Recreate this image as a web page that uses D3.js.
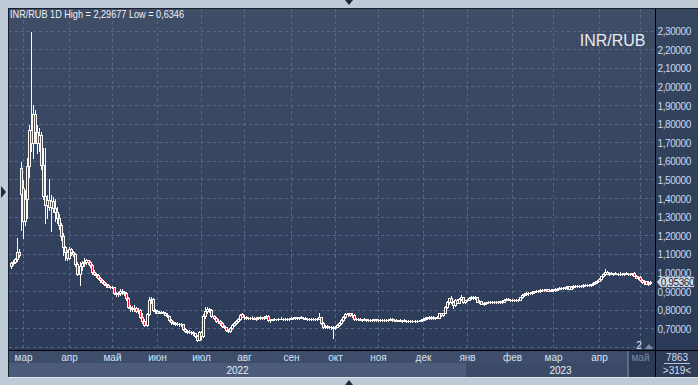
<!DOCTYPE html>
<html>
<head>
<meta charset="utf-8">
<script src="https://cdn.jsdelivr.net/npm/d3@7"></script>
<style>
  body { margin: 0; background: #bfcad7; }
  svg { display: block; }
  text { font-family: "Liberation Sans", Arial, sans-serif; }
</style>
</head>
<body>
<svg id="chart" width="698" height="385"></svg>
<script>
/**
 * INR/RUB daily candles, one [open, high, low, close] per weekday
 */
const symbol = "INR/RUB";
const firstDay = new Date(2022, 1, 21);
const lastDay = new Date(2023, 4, 8);
const monthNames = ["янв", "фев", "мар", "апр", "май", "июн", "июл", "авг", "сен", "окт", "ноя", "дек"];
const priceTicks = [0.7, 0.8, 0.9, 1.0, 1.1, 1.2, 1.3, 1.4, 1.5, 1.6, 1.7, 1.8, 1.9, 2.0, 2.1, 2.2, 2.3];
const gridTicks = [0.6].concat(priceTicks);
const lastPrice = 0.9536;
const barsShown = 7863, barsOnScreen = 319;

const feb22 = [
  [1.040,1.060,1.030,1.055],[1.055,1.075,1.045,1.062],[1.062,1.085,1.055,1.078],[1.078,1.190,1.065,1.115],
  [1.115,1.130,1.090,1.100],[1.566,1.600,1.233,1.430]
];
const mar22 = [
  [1.460,1.500,1.190,1.280],[1.280,1.450,1.260,1.400],[1.400,1.620,1.300,1.580],[1.580,1.800,1.520,1.770],
  [1.770,2.29677,1.660,1.700],[1.700,1.905,1.620,1.860],[1.860,1.880,1.700,1.760],[1.760,1.800,1.650,1.700],
  [1.700,1.780,1.660,1.745],[1.745,1.760,1.560,1.585],[1.585,1.675,1.400,1.415],[1.415,1.675,1.270,1.370],
  [1.370,1.420,1.300,1.395],[1.395,1.510,1.340,1.360],[1.360,1.420,1.230,1.390],[1.390,1.410,1.330,1.350],
  [1.350,1.400,1.280,1.330],[1.330,1.360,1.270,1.300],[1.300,1.320,1.240,1.260],[1.260,1.270,1.180,1.200],
  [1.200,1.220,1.100,1.140],[1.140,1.150,1.070,1.115],[1.115,1.125,1.075,1.085]
];
const apr22 = [
  [1.085,1.140,1.080,1.130],[1.130,1.135,1.100,1.115],[1.115,1.120,1.095,1.105],[1.105,1.110,1.040,1.050],
  [1.050,1.060,0.990,1.000],[1.000,1.060,0.940,1.040],[1.040,1.065,1.020,1.055],[1.055,1.085,1.040,1.060],
  [1.060,1.080,1.050,1.070],[1.070,1.075,1.050,1.060],[1.060,1.065,1.035,1.045],[1.045,1.050,1.000,1.010],
  [1.010,1.020,0.990,1.000],[1.000,1.005,0.980,0.990],[0.990,0.995,0.970,0.975],[0.975,0.980,0.955,0.965],
  [0.965,0.970,0.950,0.955],[0.955,0.960,0.940,0.945],[0.945,0.950,0.930,0.940],[0.940,0.945,0.925,0.930],
  [0.930,0.935,0.920,0.930]
];
const may22 = [
  [0.930,0.935,0.920,0.927],[0.927,0.930,0.890,0.895],[0.895,0.900,0.880,0.890],[0.890,0.900,0.880,0.895],
  [0.895,0.916,0.885,0.905],[0.905,0.915,0.890,0.900],[0.900,0.905,0.885,0.895],[0.895,0.900,0.860,0.868],
  [0.868,0.875,0.815,0.820],[0.820,0.830,0.800,0.815],[0.815,0.825,0.800,0.810],[0.810,0.830,0.800,0.815],
  [0.815,0.820,0.795,0.800],[0.800,0.815,0.790,0.805],[0.805,0.810,0.760,0.765],[0.765,0.790,0.735,0.745],
  [0.745,0.755,0.720,0.725],[0.725,0.790,0.720,0.780],[0.780,0.875,0.775,0.855],[0.855,0.875,0.840,0.865],
  [0.865,0.870,0.800,0.805],[0.805,0.810,0.790,0.800]
];
const jun22 = [
  [0.800,0.805,0.785,0.790],[0.790,0.800,0.785,0.795],[0.795,0.800,0.788,0.792],[0.792,0.798,0.785,0.790],
  [0.790,0.795,0.775,0.778],[0.778,0.785,0.765,0.770],[0.770,0.772,0.745,0.750],[0.750,0.755,0.730,0.737],
  [0.737,0.742,0.728,0.733],[0.733,0.740,0.725,0.730],[0.730,0.737,0.722,0.728],[0.728,0.735,0.720,0.731],
  [0.731,0.736,0.720,0.726],[0.726,0.728,0.695,0.700],[0.700,0.705,0.685,0.690],[0.690,0.698,0.680,0.687],
  [0.687,0.695,0.678,0.684],[0.684,0.692,0.675,0.687],[0.687,0.690,0.672,0.680],[0.680,0.682,0.660,0.664],
  [0.664,0.670,0.6346,0.645],[0.645,0.690,0.640,0.685]
];
const jul22 = [
  [0.685,0.690,0.650,0.665],[0.665,0.780,0.660,0.770],[0.770,0.820,0.760,0.800],[0.800,0.820,0.790,0.810],
  [0.810,0.815,0.795,0.805],[0.805,0.808,0.765,0.770],[0.770,0.775,0.755,0.760],[0.760,0.765,0.740,0.745],
  [0.745,0.755,0.735,0.742],[0.742,0.750,0.725,0.735],[0.735,0.738,0.715,0.720],[0.720,0.725,0.705,0.710],
  [0.710,0.715,0.690,0.695],[0.695,0.700,0.685,0.690],[0.690,0.710,0.688,0.705],[0.705,0.730,0.700,0.725],
  [0.725,0.740,0.720,0.735],[0.735,0.750,0.730,0.745],[0.745,0.760,0.740,0.755],[0.755,0.780,0.750,0.775],
  [0.780,0.785,0.765,0.768]
];
const aug22 = [
  [0.768,0.775,0.755,0.765],[0.765,0.772,0.758,0.762],[0.762,0.768,0.755,0.760],[0.760,0.765,0.754,0.763],
  [0.763,0.770,0.758,0.762],[0.762,0.766,0.755,0.758],[0.758,0.764,0.752,0.760],[0.760,0.768,0.756,0.764],
  [0.764,0.769,0.756,0.759],[0.759,0.765,0.754,0.762],[0.762,0.772,0.758,0.768],[0.768,0.777,0.762,0.773],
  [0.773,0.776,0.745,0.750],[0.750,0.758,0.738,0.752],[0.752,0.758,0.748,0.755],[0.755,0.760,0.750,0.753],
  [0.753,0.758,0.748,0.756],[0.756,0.762,0.752,0.757],[0.757,0.765,0.753,0.755],[0.755,0.760,0.750,0.754],
  [0.754,0.760,0.749,0.757],[0.757,0.762,0.752,0.756],[0.756,0.761,0.750,0.758]
];
const sep22 = [
  [0.758,0.765,0.755,0.762],[0.762,0.767,0.757,0.760],[0.760,0.768,0.756,0.764],[0.764,0.768,0.758,0.762],
  [0.762,0.768,0.757,0.765],[0.765,0.770,0.759,0.763],[0.763,0.767,0.757,0.760],[0.760,0.765,0.754,0.757],
  [0.757,0.763,0.752,0.756],[0.756,0.760,0.750,0.755],[0.755,0.760,0.749,0.757],[0.757,0.762,0.752,0.756],
  [0.756,0.760,0.751,0.757],[0.757,0.761,0.752,0.758],[0.758,0.788,0.755,0.765],[0.765,0.768,0.730,0.735],
  [0.735,0.738,0.705,0.712],[0.712,0.725,0.705,0.720],[0.720,0.722,0.708,0.715],[0.715,0.720,0.705,0.710],
  [0.710,0.718,0.700,0.712],[0.712,0.716,0.655,0.705]
];
const oct22 = [
  [0.705,0.720,0.700,0.715],[0.715,0.730,0.710,0.725],[0.725,0.740,0.720,0.735],[0.735,0.755,0.730,0.750],
  [0.750,0.770,0.745,0.765],[0.765,0.785,0.760,0.780],[0.780,0.790,0.772,0.785],[0.785,0.790,0.770,0.775],
  [0.775,0.785,0.765,0.778],[0.778,0.780,0.750,0.755],[0.755,0.762,0.748,0.758],[0.758,0.763,0.750,0.755],
  [0.755,0.760,0.748,0.752],[0.752,0.758,0.746,0.755],[0.755,0.760,0.748,0.753],[0.753,0.757,0.746,0.750],
  [0.750,0.756,0.745,0.752],[0.752,0.757,0.746,0.749],[0.749,0.755,0.744,0.751],[0.751,0.757,0.746,0.753],
  [0.753,0.758,0.747,0.750]
];
const nov22 = [
  [0.750,0.756,0.745,0.752],[0.752,0.757,0.747,0.750],[0.750,0.755,0.744,0.748],[0.748,0.754,0.743,0.751],
  [0.751,0.756,0.746,0.749],[0.749,0.755,0.744,0.752],[0.752,0.760,0.748,0.757],[0.757,0.760,0.745,0.748],
  [0.748,0.753,0.743,0.750],[0.750,0.755,0.744,0.747],[0.747,0.752,0.742,0.749],[0.749,0.754,0.743,0.746],
  [0.746,0.752,0.741,0.748],[0.748,0.753,0.742,0.745],[0.745,0.750,0.740,0.747],[0.747,0.752,0.741,0.744],
  [0.744,0.750,0.739,0.746],[0.746,0.751,0.740,0.743],[0.743,0.749,0.738,0.745],[0.745,0.750,0.740,0.747],
  [0.747,0.752,0.742,0.745],[0.745,0.755,0.743,0.752]
];
const dec22 = [
  [0.752,0.760,0.748,0.757],[0.757,0.765,0.752,0.760],[0.760,0.768,0.755,0.764],[0.764,0.770,0.758,0.762],
  [0.762,0.770,0.757,0.765],[0.765,0.770,0.758,0.763],[0.763,0.768,0.757,0.765],[0.765,0.770,0.759,0.763],
  [0.763,0.790,0.760,0.786],[0.786,0.790,0.770,0.775],[0.775,0.790,0.772,0.788],[0.788,0.825,0.785,0.820],
  [0.820,0.850,0.815,0.845],[0.845,0.870,0.835,0.866],[0.866,0.879,0.840,0.845],[0.845,0.850,0.816,0.830],
  [0.830,0.862,0.825,0.858],[0.858,0.862,0.840,0.843],[0.843,0.870,0.840,0.865],[0.865,0.884,0.860,0.874],
  [0.874,0.876,0.840,0.845],[0.845,0.860,0.840,0.855]
];
const jan23 = [
  [0.855,0.862,0.850,0.858],[0.858,0.872,0.855,0.868],[0.868,0.878,0.862,0.872],[0.872,0.878,0.865,0.870],
  [0.870,0.877,0.864,0.873],[0.873,0.876,0.845,0.848],[0.848,0.855,0.842,0.850],[0.850,0.853,0.835,0.838],
  [0.838,0.845,0.832,0.840],[0.840,0.848,0.835,0.845],[0.845,0.852,0.840,0.847],[0.847,0.852,0.842,0.845],
  [0.845,0.851,0.840,0.848],[0.848,0.853,0.842,0.846],[0.846,0.852,0.841,0.849],[0.849,0.854,0.843,0.847],
  [0.847,0.853,0.842,0.850],[0.850,0.855,0.844,0.848],[0.848,0.862,0.845,0.860],[0.860,0.868,0.855,0.864],
  [0.864,0.869,0.855,0.858],[0.858,0.864,0.853,0.860]
];
const feb23 = [
  [0.860,0.865,0.854,0.857],[0.857,0.863,0.852,0.859],[0.859,0.864,0.853,0.856],[0.856,0.862,0.851,0.860],
  [0.860,0.875,0.857,0.872],[0.872,0.888,0.868,0.885],[0.885,0.895,0.880,0.891],[0.891,0.898,0.885,0.893],
  [0.893,0.900,0.887,0.895],[0.895,0.902,0.889,0.897],[0.897,0.905,0.892,0.902],[0.902,0.908,0.896,0.905],
  [0.905,0.910,0.899,0.906],[0.906,0.912,0.900,0.908],[0.908,0.914,0.903,0.910],[0.910,0.916,0.904,0.911],
  [0.911,0.917,0.905,0.912],[0.912,0.918,0.906,0.916],[0.916,0.918,0.905,0.908],[0.908,0.915,0.904,0.912]
];
const mar23 = [
  [0.912,0.918,0.907,0.914],[0.914,0.920,0.908,0.913],[0.913,0.922,0.909,0.919],[0.919,0.926,0.914,0.923],
  [0.923,0.928,0.917,0.924],[0.924,0.929,0.918,0.922],[0.922,0.928,0.917,0.925],[0.925,0.932,0.919,0.931],
  [0.931,0.934,0.916,0.919],[0.919,0.932,0.916,0.929],[0.929,0.936,0.924,0.932],[0.932,0.938,0.927,0.934],
  [0.934,0.939,0.928,0.933],[0.933,0.938,0.927,0.935],[0.935,0.940,0.929,0.934],[0.934,0.941,0.930,0.937],
  [0.937,0.942,0.931,0.936],[0.936,0.943,0.931,0.939],[0.939,0.944,0.933,0.938],[0.938,0.945,0.933,0.941],
  [0.941,0.952,0.937,0.949],[0.949,0.960,0.945,0.956],[0.956,0.966,0.950,0.962]
];
const apr23 = [
  [0.962,0.975,0.958,0.971],[0.971,0.988,0.966,0.984],[0.984,1.002,0.980,0.998],[0.998,1.023,0.993,1.008],
  [1.008,1.013,0.996,1.000],[1.000,1.006,0.994,1.002],[1.002,1.008,0.996,0.999],[0.999,1.005,0.994,1.001],
  [1.001,1.007,0.995,0.998],[0.998,1.004,0.993,1.000],[1.000,1.006,0.994,0.997],[0.997,1.003,0.992,0.999],
  [0.999,1.005,0.993,1.001],[1.001,1.007,0.995,0.998],[0.998,1.004,0.993,1.000],[1.000,1.005,0.994,0.998],
  [0.998,1.004,0.993,1.001],[1.001,1.006,0.985,0.988],[0.988,0.992,0.974,0.978],[0.978,0.985,0.972,0.980]
];
const may23 = [
  [0.980,0.984,0.962,0.965],[0.965,0.970,0.948,0.952],[0.952,0.963,0.946,0.958],[0.958,0.962,0.942,0.946],
  [0.946,0.957,0.940,0.951],[0.951,0.958,0.945,0.9536]
];

const bars = [].concat(feb22, mar22, apr22, may22, jun22, jul22, aug22, sep22, oct22, nov22, dec22,
                       jan23, feb23, mar23, apr23, may23);

// trading days (weekdays only)
const days = d3.timeDay.range(firstDay, d3.timeDay.offset(lastDay, 1))
  .filter(d => d.getDay() !== 0 && d.getDay() !== 6);

const n = Math.min(bars.length, days.length);
const data = d3.range(n).map(i => ({
  i: i, date: days[i], o: bars[i][0], h: bars[i][1], l: bars[i][2], c: bars[i][3]
}));

/**
 * Layout
 */
const W = 698, H = 385;
const plot = {left: 9, top: 9, right: 655, bottom: 350};
const axisBottom = 377;

const x = d3.scaleLinear().domain([0, n - 1]).range([10.5, 650]);
const y = d3.scaleLinear().domain([0.7, 2.3]).range([329.3, 31.7]);
const fmt = v => d3.format(".5f")(v).replace(".", ",");

const svg = d3.select("#chart");
const defs = svg.append("defs");

const bg = defs.append("linearGradient").attr("id", "plotBg")
  .attr("gradientUnits", "userSpaceOnUse")
  .attr("x1", 0).attr("y1", plot.top).attr("x2", 0).attr("y2", plot.bottom);
bg.append("stop").attr("offset", 0).attr("stop-color", "#3f4d67");
bg.append("stop").attr("offset", 1).attr("stop-color", "#2c3b58");

const axBg = defs.append("linearGradient").attr("id", "axisBg")
  .attr("gradientUnits", "userSpaceOnUse")
  .attr("x1", 0).attr("y1", plot.top).attr("x2", 0).attr("y2", plot.bottom);
axBg.append("stop").attr("offset", 0).attr("stop-color", "#37465f");
axBg.append("stop").attr("offset", 1).attr("stop-color", "#2b3a56");

defs.append("clipPath").attr("id", "plotClip").append("rect")
  .attr("x", plot.left).attr("y", plot.top)
  .attr("width", plot.right - plot.left).attr("height", plot.bottom - plot.top);

// outer window
svg.append("rect").attr("width", W).attr("height", H).attr("fill", "#bfcad7");
svg.append("rect").attr("x", 8).attr("y", 8).attr("width", W - 8).attr("height", axisBottom - 8)
  .attr("fill", "#18202d");
svg.append("line").attr("x1", 8).attr("x2", W).attr("y1", axisBottom + 0.5).attr("y2", axisBottom + 0.5)
  .attr("stroke", "#dfe5ec");

// panels
svg.append("rect").attr("x", plot.left).attr("y", plot.top)
  .attr("width", plot.right - plot.left).attr("height", plot.bottom - plot.top)
  .attr("fill", "url(#plotBg)");
svg.append("rect").attr("x", plot.right + 1).attr("y", plot.top)
  .attr("width", W - plot.right - 1).attr("height", plot.bottom - plot.top)
  .attr("fill", "url(#axisBg)");

// time axis strip
const firstOfMonth = data.filter((d, k) => k > 0 && d.date.getMonth() !== data[k - 1].date.getMonth());
const firstOfYear = firstOfMonth.filter(d => d.date.getMonth() === 0);
const yearEdges = [plot.left].concat(firstOfYear.map(d => Math.round(x(d.i)) - 1), [plot.right]);
const years = [data[0].date.getFullYear()].concat(firstOfYear.map(d => d.date.getFullYear()));

svg.append("rect").attr("x", plot.left).attr("y", plot.bottom + 1)
  .attr("width", plot.right - plot.left).attr("height", axisBottom - plot.bottom - 1)
  .attr("fill", "#3d4d6a");
svg.selectAll(".year-band").data(years).join("rect")
  .attr("class", "year-band")
  .attr("x", (d, k) => yearEdges[k])
  .attr("y", 363)
  .attr("width", (d, k) => yearEdges[k + 1] - yearEdges[k])
  .attr("height", axisBottom - 363)
  .attr("fill", (d, k) => k === 0 ? "#4b5b79" : "#3b4a67");

// current (last) month box
const lastMonth = firstOfMonth[firstOfMonth.length - 1];
const boxLeft = Math.round(x(lastMonth.i)) - 12;
svg.append("rect").attr("x", boxLeft).attr("y", plot.bottom + 1)
  .attr("width", plot.right - boxLeft).attr("height", axisBottom - plot.bottom - 1)
  .attr("fill", "#2c3a56");
svg.append("rect").attr("x", boxLeft - 1).attr("y", plot.bottom + 1)
  .attr("width", 2).attr("height", axisBottom - plot.bottom - 1)
  .attr("fill", "#5d6c86");

// bottom-right info box
svg.append("rect").attr("x", plot.right + 1).attr("y", plot.bottom + 1)
  .attr("width", W - plot.right - 1).attr("height", axisBottom - plot.bottom - 1)
  .attr("fill", "#2e3c58");

/**
 * Grid
 */
const grid = svg.append("g").attr("stroke", "#56678a").attr("stroke-dasharray", "3,3")
  .attr("stroke-width", 1);
grid.selectAll(".hgrid").data(gridTicks).join("line")
  .attr("class", "hgrid")
  .attr("x1", plot.left).attr("x2", plot.right)
  .attr("y1", d => Math.round(y(d)) - 0.5).attr("y2", d => Math.round(y(d)) - 0.5);
grid.selectAll(".vgrid").data(firstOfMonth).join("line")
  .attr("class", "vgrid")
  .attr("x1", d => Math.round(x(d.i)) + 0.5).attr("x2", d => Math.round(x(d.i)) + 0.5)
  .attr("y1", plot.top).attr("y2", plot.bottom);

// separators
svg.append("line").attr("x1", plot.right + 0.5).attr("x2", plot.right + 0.5)
  .attr("y1", plot.top).attr("y2", axisBottom).attr("stroke", "#000");
svg.append("line").attr("x1", plot.left).attr("x2", W)
  .attr("y1", plot.bottom + 0.5).attr("y2", plot.bottom + 0.5).attr("stroke", "#000");

/**
 * Candles
 */
const white = "#fbf7f2", bear = "#ee1133";
const candles = svg.append("g").attr("clip-path", "url(#plotClip)")
  .selectAll(".candle").data(data).join("g").attr("class", "candle");

candles.each(function(d) {
  const g = d3.select(this);
  const cx = Math.round(x(d.i));
  const yh = Math.round(y(d.h)), yl = Math.round(y(d.l));
  const yt = Math.round(y(Math.max(d.o, d.c))), yb = Math.round(y(Math.min(d.o, d.c)));
  const bh = Math.max(1, yb - yt + 1);
  g.append("rect").attr("x", cx).attr("y", yh).attr("width", 1)
    .attr("height", Math.max(1, yl - yh + 1)).attr("fill", white);
  g.append("rect").attr("x", cx - 1).attr("y", yt).attr("width", 3).attr("height", bh)
    .attr("fill", white);
  if (bh > 2) {
    g.append("rect").attr("x", cx).attr("y", yt + 1).attr("width", 1).attr("height", bh - 2)
      .attr("fill", d.c < d.o ? bear : "url(#plotBg)");
  }
});

/**
 * Texts
 */
const hi = d3.max(data, d => d.h), lo = d3.min(data, d => d.l);
svg.append("text").attr("x", 10).attr("y", 14.5).attr("dy", "0.35em")
  .attr("fill", "#eef2f7").attr("font-size", 10.5)
  .attr("textLength", 174).attr("lengthAdjust", "spacingAndGlyphs")
  .text(symbol + " 1D High = " + String(hi).replace(".", ",") + " Low = " + String(lo).replace(".", ","));

svg.append("text").attr("x", 645.5).attr("y", 40).attr("dy", "0.35em")
  .attr("text-anchor", "end").attr("fill", "#e6ecf2").attr("font-size", 16)
  .text(symbol);

// price axis (the label under the last-price marker stays, as in the terminal)
svg.append("g").selectAll("text").data(priceTicks).join("text")
  .attr("x", 657.5).attr("y", d => y(d)).attr("dy", "0.35em")
  .attr("fill", "#c8d9f0").attr("font-size", 10).attr("letter-spacing", "-0.4")
  .text(fmt);

// last price marker
const py = Math.round(y(lastPrice));
svg.append("path")
  .attr("d", `M657,${py}L661,${py - 5}H694V${py + 5}H661Z`)
  .attr("fill", "#d8dee6").attr("stroke", "#8d9bb0").attr("stroke-width", 0.5);
svg.append("text").attr("x", 677.5).attr("y", py).attr("dy", "0.35em")
  .attr("text-anchor", "middle").attr("fill", "#14233c").attr("font-size", 10)
  .attr("letter-spacing", "-0.4")
  .text(fmt(lastPrice));

// month labels
svg.append("g").selectAll("text").data(firstOfMonth).join("text")
  .attr("x", d => Math.round(x(d.i)) + 0.5).attr("y", 357.5).attr("dy", "0.35em")
  .attr("text-anchor", "middle").attr("font-size", 10)
  .attr("fill", d => d === lastMonth ? "#7c8ca6" : "#d2e2f5")
  .text(d => monthNames[d.date.getMonth()]);

// year labels
svg.append("g").selectAll("text").data(years).join("text")
  .attr("x", (d, k) => (yearEdges[k] + yearEdges[k + 1]) / 2).attr("y", 370).attr("dy", "0.35em")
  .attr("text-anchor", "middle").attr("font-size", 10).attr("fill", "#e8eef6")
  .text(d => d);

// bars info
svg.append("text").attr("x", 677).attr("y", 357.5).attr("dy", "0.35em")
  .attr("text-anchor", "middle").attr("font-size", 10).attr("fill", "#d2def0").text(barsShown);
svg.append("line").attr("x1", 664).attr("x2", 690).attr("y1", 363.5).attr("y2", 363.5)
  .attr("stroke", "#b8c6da");
svg.append("text").attr("x", 677).attr("y", 370.5).attr("dy", "0.35em")
  .attr("text-anchor", "middle").attr("font-size", 10).attr("fill", "#d2def0")
  .text(">" + barsOnScreen + "<");

// scroll marker
svg.append("text").attr("x", 639).attr("y", 345.5).attr("dy", "0.35em")
  .attr("text-anchor", "middle").attr("font-size", 10).attr("fill", "#e8eef6").text("2");
svg.append("path").attr("d", "M645,349L649,344L653,349Z").attr("fill", "#7d8ca4");

// window pointers
svg.append("path").attr("d", "M1,186L6,192L1,198Z").attr("fill", "#1c2838");
svg.append("path").attr("d", "M345,0L353,0L349,5Z").attr("fill", "#1c2838");
svg.append("path").attr("d", "M345,385L353,385L349,380Z").attr("fill", "#1c2838");
</script>
</body>
</html>
